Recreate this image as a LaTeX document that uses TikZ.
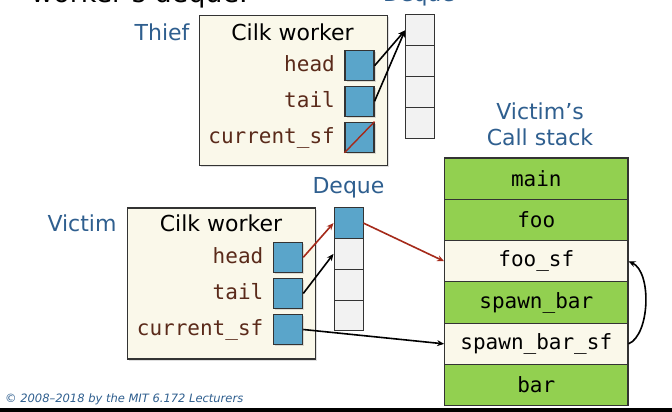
\documentclass[tikz,border=0pt]{standalone}
\usepackage{fontspec}
\setmainfont{DejaVu Sans}
\setmonofont{DejaVu Sans Mono}
\usetikzlibrary{arrows.meta,shadows}
\definecolor{lblblue}{HTML}{2F5F8F}
\definecolor{creamfill}{HTML}{FAF8EA}
\definecolor{sqblue}{HTML}{5AA5CA}
\definecolor{stackgreen}{HTML}{92D050}
\definecolor{cellgray}{HTML}{F2F2F2}
\definecolor{monobrown}{HTML}{5A2A1A}
\definecolor{arrred}{HTML}{A52A1A}
\definecolor{edgegray}{HTML}{333333}
\tikzset{
  shad/.style={drop shadow={opacity=0.25,shadow xshift=1.5pt,shadow yshift=-1.5pt}},
  workerbox/.style={draw=edgegray,line width=1.1pt,fill=creamfill,shad,minimum width=188pt,inner sep=0pt},
  sqbox/.style={draw=edgegray,line width=1.1pt,fill=sqblue,shad,minimum width=29pt,minimum height=30pt,inner sep=0pt},
  dqcell/.style={draw=edgegray,line width=1pt,fill=cellgray,minimum width=29pt,minimum height=30.8pt,inner sep=0pt},
  stk/.style={draw=edgegray,line width=1.1pt,fill=stackgreen,minimum width=183.3pt,minimum height=41.3pt,inner sep=0pt,font=\fontsize{21}{24}\selectfont\ttfamily},
  stksf/.style={stk,fill=creamfill},
  bluelbl/.style={text=lblblue,font=\fontsize{22}{26}\selectfont,inner sep=0pt},
  cwlbl/.style={font=\fontsize{22}{26}\selectfont,inner sep=0pt},
  fldlbl/.style={text=monobrown,font=\fontsize{21}{24}\selectfont\ttfamily,inner sep=0pt,anchor=base east},
  ptr/.style={line width=1.6pt,-{Stealth[length=7pt,width=6pt]}},
}
\begin{document}
\begin{tikzpicture}[x=1pt,y=-1pt]
\useasboundingbox (0,0) rectangle (672,412);
\clip (0,0) rectangle (672,412);
\fill[white] (0,0) rectangle (672,412);
% partially visible title and label
\node[font=\fontsize{27}{30}\selectfont,anchor=base west,inner sep=0pt] (title) at (31,3) {worker's deque.};
\node[bluelbl,anchor=base] (tdqlbl) at (419,2) {Deque};
% Thief
\node[bluelbl] (thief) at (162,32) {Thief};
\node[workerbox,minimum height=149.7pt] (tbox) at (293.2,90.8) {};
\node[cwlbl] (tcw) at (292.5,32) {Cilk worker};
\node[sqbox] (th) at (359.5,65.7) {};
\node[sqbox] (tt) at (359.5,101.3) {};
\node[sqbox] (tc) at (359.5,137.2) {};
\draw[arrred,line width=1.4pt] (tc.south west) -- (tc.north east);
\node[fldlbl] (thl) at (335,72) {head};
\node[fldlbl] (ttl) at (335,107.5) {tail};
\node[fldlbl] (tcl) at (335,143.5) {current\_sf};
\node[dqcell] (td1) at (420,30.4) {};
\node[dqcell] (td2) at (420,61.2) {};
\node[dqcell] (td3) at (420,92) {};
\node[dqcell] (td4) at (420,122.8) {};
\draw[ptr] (th.east) -- (td1.west);
\draw[ptr] (tt.east) -- (td1.west);
% Victim
\node[bluelbl] (victim) at (82,223) {Victim};
\node[workerbox,minimum height=151pt] (vbox) at (221.9,283.5) {};
\node[cwlbl] (vcw) at (221,223) {Cilk worker};
\node[sqbox] (vh) at (288.2,257.3) {};
\node[sqbox] (vt) at (288.2,293.5) {};
\node[sqbox] (vc) at (288.2,329.5) {};
\node[fldlbl] (vhl) at (263.5,263.5) {head};
\node[fldlbl] (vtl) at (263.5,299.5) {tail};
\node[fldlbl] (vcl) at (263.5,335.5) {current\_sf};
\node[bluelbl] (vdqlbl) at (348.5,188) {Deque};
\node[dqcell,fill=sqblue] (vd1) at (348.5,223.1) {};
\node[dqcell] (vd2) at (348.5,253.9) {};
\node[dqcell] (vd3) at (348.5,284.7) {};
\node[dqcell] (vd4) at (348.5,315.5) {};
% Call stack
\node[bluelbl,align=center] (cslbl) at (540,124) {Victim’s\\Call stack};
\node[stk] (s1) at (536.3,178.65) {main};
\node[stk] (s2) at (536.3,219.95) {foo};
\node[stksf] (s3) at (536.3,261.25) {foo\_sf};
\node[stk] (s4) at (536.3,302.55) {spawn\_bar};
\node[stksf] (s5) at (536.3,343.85) {spawn\_bar\_sf};
\node[stk] (s6) at (536.3,385.15) {bar};
% pointers
\draw[ptr,arrred] (vh.east) -- (vd1.west);
\draw[ptr] (vt.east) -- (vd2.west);
\draw[ptr,arrred] (vd1.east) -- (s3.west);
\draw[ptr] (vc.east) -- (s5.west);
\draw[ptr] (s5.east) .. controls (650,335) and (652,272) .. (s3.east);
% footer
\node[text=lblblue,font=\fontsize{11.5}{13}\selectfont\itshape,anchor=base west,inner sep=0pt] (copy) at (5,402) {© 2008–2018 by the MIT 6.172 Lecturers};
\fill[black] (0,408) rectangle (672,412);
\end{tikzpicture}
\end{document}
